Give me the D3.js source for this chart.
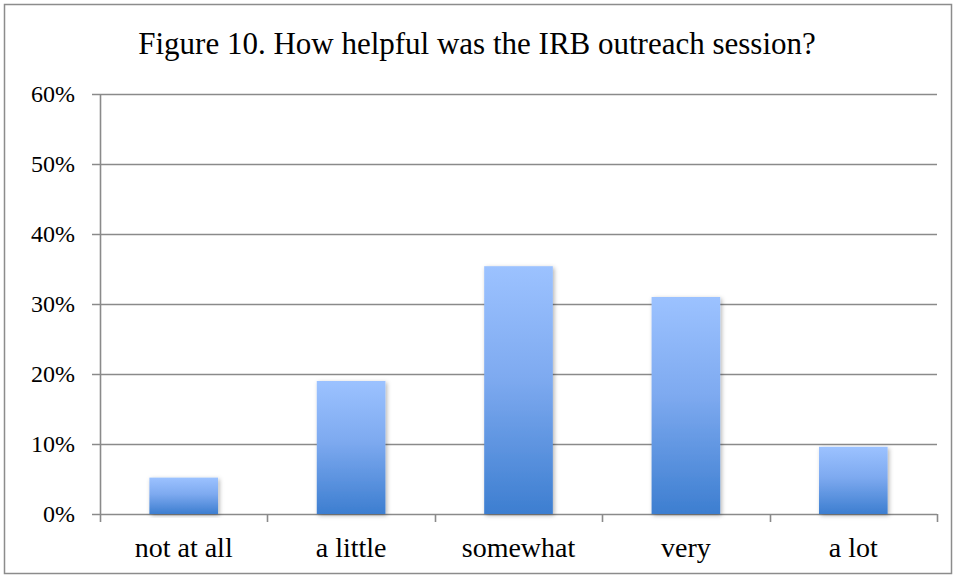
<!DOCTYPE html>
<html>
<head>
<meta charset="utf-8">
<script src="https://cdn.jsdelivr.net/npm/d3@7"></script>
<style>
  html, body { margin: 0; padding: 0; background: #fff; }
  svg { display: block; }
</style>
</head>
<body>
<svg id="chart" width="955" height="577"></svg>
<script>
// Survey responses: share of attendees per helpfulness rating
const categories = ["not at all", "a little", "somewhat", "very", "a lot"];
const values = [0.052, 0.19, 0.354, 0.31, 0.096];
const yTicks = [0, 0.1, 0.2, 0.3, 0.4, 0.5, 0.6];
const title = "Figure 10. How helpful was the IRB outreach session?";

const svg = d3.select("#chart");
const W = 955, H = 577;
const margin = { left: 100, right: 18, top: 94, bottom: 63 };
const plotW = W - margin.left - margin.right;
const plotH = H - margin.top - margin.bottom;

// outer chart frame
svg.append("rect")
  .attr("x", 4.5).attr("y", 4.5)
  .attr("width", W - 8).attr("height", H - 8)
  .attr("fill", "#fff").attr("stroke", "#8c8c8c").attr("stroke-width", 1.5);

const defs = svg.append("defs");
const grad = defs.append("linearGradient")
  .attr("id", "barFill").attr("x1", 0).attr("y1", 0).attr("x2", 0).attr("y2", 1);
grad.append("stop").attr("offset", "0%").attr("stop-color", "#9cc2ff");
grad.append("stop").attr("offset", "45%").attr("stop-color", "#7eaaf0");
grad.append("stop").attr("offset", "100%").attr("stop-color", "#3d7ed0");

const shadow = defs.append("filter").attr("id", "barShadow")
  .attr("x", "-20%").attr("y", "-10%").attr("width", "140%").attr("height", "120%");
shadow.append("feDropShadow")
  .attr("dx", 1.5).attr("dy", 1.5).attr("stdDeviation", 2)
  .attr("flood-color", "#000").attr("flood-opacity", 0.3);

const g = svg.append("g").attr("transform", `translate(${margin.left},${margin.top})`);

const x = d3.scaleBand().domain(categories).range([0, plotW]).paddingInner(0.59).paddingOuter(0.295);
const xEdges = d3.scaleLinear().domain([0, categories.length]).range([0, plotW]);
const y = d3.scaleLinear().domain([0, 0.6]).range([plotH, 0]);

// horizontal gridlines
g.append("g")
  .selectAll("line")
  .data(yTicks)
  .join("line")
  .attr("x1", -8).attr("x2", plotW)
  .attr("y1", d => Math.round(y(d)) + 0.5).attr("y2", d => Math.round(y(d)) + 0.5)
  .attr("stroke", "#8a8a8a").attr("stroke-width", 1.6);

// y axis line
g.append("line")
  .attr("x1", 0.5).attr("x2", 0.5).attr("y1", 0).attr("y2", plotH + 8)
  .attr("stroke", "#8a8a8a").attr("stroke-width", 1.6);

// category boundary tick marks under the baseline
g.append("g")
  .selectAll("line")
  .data(d3.range(1, categories.length + 1))
  .join("line")
  .attr("x1", d => Math.round(xEdges(d)) + 0.5).attr("x2", d => Math.round(xEdges(d)) + 0.5)
  .attr("y1", plotH).attr("y2", plotH + 8)
  .attr("stroke", "#8a8a8a").attr("stroke-width", 1.6);

// y tick labels
g.append("g")
  .selectAll("text")
  .data(yTicks)
  .join("text")
  .attr("x", -25).attr("y", d => y(d))
  .attr("dy", "0.35em")
  .attr("text-anchor", "end")
  .attr("font-family", "Liberation Serif, serif")
  .attr("font-size", 24)
  .attr("fill", "#000")
  .text(d3.format(".0%"));

// bars
g.append("g")
  .selectAll("rect")
  .data(values)
  .join("rect")
  .attr("x", (d, i) => x(categories[i]))
  .attr("y", d => y(d))
  .attr("width", x.bandwidth())
  .attr("height", d => plotH - y(d))
  .attr("fill", "url(#barFill)")
  .attr("filter", "url(#barShadow)");

// category labels
g.append("g")
  .selectAll("text")
  .data(categories)
  .join("text")
  .attr("x", d => x(d) + x.bandwidth() / 2)
  .attr("y", plotH + 43)
  .attr("text-anchor", "middle")
  .attr("font-family", "Liberation Serif, serif")
  .attr("font-size", 28)
  .attr("fill", "#000")
  .text(d => d);

// title
svg.append("text")
  .attr("x", 477).attr("y", 54)
  .attr("text-anchor", "middle")
  .attr("font-family", "Liberation Serif, Times New Roman, serif")
  .attr("font-size", 31)
  .attr("fill", "#000")
  .text(title);
</script>
</body>
</html>
